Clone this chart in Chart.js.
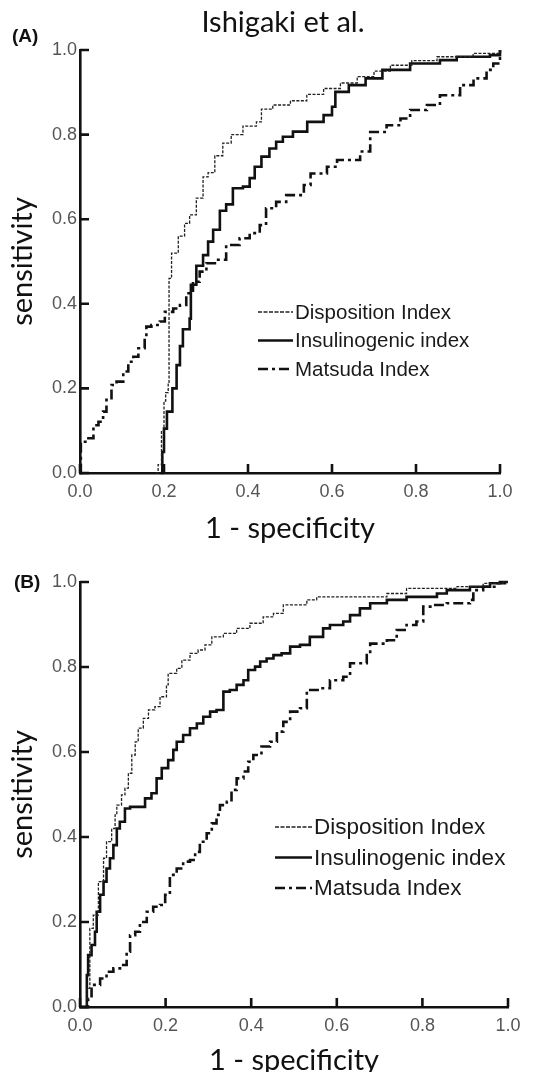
<!DOCTYPE html>
<html lang="en">
<head>
<meta charset="UTF-8">
<title>ROC curves - Ishigaki et al.</title>
<script src="https://cdn.jsdelivr.net/npm/chart.js"></script>
<style>
  body { margin: 0; background: #fff; }
  .panel { position: absolute; left: 0; width: 539px; }
  #panelA { top: 0; height: 545px; }
  #panelB { top: 545px; height: 527px; }
</style>
</head>
<body>
<div class="panel" id="panelA"><canvas id="chartA"></canvas></div>
<div class="panel" id="panelB"><canvas id="chartB"></canvas></div>

<script>
// ---- data ----
const seriesNames = ['Disposition Index', 'Insulinogenic index', 'Matsuda Index'];
const tickValues = [0, 0.2, 0.4, 0.6, 0.8, 1.0];

// panel (A)
const dispA_fpr = [0.180, 0.186, 0.194, 0.200, 0.204, 0.210, 0.212, 0.218, 0.234, 0.249, 0.261, 0.277, 0.293, 0.305, 0.321, 0.340, 0.360, 0.388, 0.420, 0.432, 0.459, 0.501, 0.540, 0.580, 0.620, 0.660, 0.700, 0.739, 0.790, 0.850, 0.936, 1.0];
const dispA_tpr = [0, 0.02, 0.10, 0.17, 0.19, 0.21, 0.46, 0.52, 0.56, 0.59, 0.61, 0.65, 0.70, 0.71, 0.75, 0.78, 0.80, 0.82, 0.83, 0.86, 0.87, 0.88, 0.895, 0.909, 0.922, 0.937, 0.950, 0.964, 0.975, 0.984, 0.992, 1.0];

const insA_fpr = [0.192, 0.196, 0.200, 0.207, 0.220, 0.230, 0.238, 0.245, 0.261, 0.264, 0.277, 0.293, 0.305, 0.317, 0.333, 0.348, 0.364, 0.388, 0.404, 0.416, 0.432, 0.451, 0.467, 0.483, 0.507, 0.541, 0.580, 0.600, 0.608, 0.640, 0.680, 0.720, 0.786, 0.857, 0.897, 0.976, 1.0];
const insA_tpr = [0, 0.05, 0.105, 0.145, 0.20, 0.255, 0.30, 0.34, 0.365, 0.445, 0.49, 0.515, 0.547, 0.575, 0.62, 0.635, 0.673, 0.677, 0.697, 0.724, 0.748, 0.767, 0.783, 0.795, 0.807, 0.830, 0.846, 0.866, 0.901, 0.917, 0.933, 0.953, 0.968, 0.976, 0.984, 0.988, 1.0];

const matA_fpr = [0, 0.002, 0.020, 0.032, 0.044, 0.055, 0.063, 0.075, 0.087, 0.103, 0.115, 0.127, 0.139, 0.154, 0.158, 0.170, 0.190, 0.202, 0.222, 0.238, 0.253, 0.269, 0.285, 0.301, 0.325, 0.348, 0.380, 0.404, 0.428, 0.443, 0.467, 0.491, 0.533, 0.549, 0.588, 0.612, 0.667, 0.691, 0.730, 0.763, 0.786, 0.826, 0.857, 0.905, 0.937, 0.968, 0.984, 1.0];
const matA_tpr = [0, 0.074, 0.082, 0.113, 0.121, 0.145, 0.173, 0.208, 0.216, 0.24, 0.263, 0.275, 0.295, 0.318, 0.346, 0.35, 0.358, 0.381, 0.389, 0.397, 0.425, 0.452, 0.476, 0.496, 0.504, 0.539, 0.555, 0.567, 0.586, 0.626, 0.641, 0.657, 0.681, 0.708, 0.724, 0.74, 0.76, 0.806, 0.822, 0.838, 0.858, 0.870, 0.893, 0.917, 0.933, 0.953, 0.968, 1.0];

// panel (B)
const dispB_fpr = [0, 0.016, 0.023, 0.031, 0.043, 0.055, 0.062, 0.074, 0.082, 0.086, 0.097, 0.105, 0.113, 0.121, 0.129, 0.136, 0.148, 0.160, 0.175, 0.187, 0.202, 0.206, 0.226, 0.238, 0.257, 0.276, 0.292, 0.308, 0.335, 0.366, 0.397, 0.428, 0.452, 0.475, 0.530, 0.553, 0.717, 0.763, 0.881, 0.942, 0.989, 1.0];
const dispB_tpr = [0, 0.044, 0.185, 0.216, 0.295, 0.35, 0.389, 0.42, 0.452, 0.475, 0.499, 0.515, 0.55, 0.593, 0.624, 0.656, 0.679, 0.699, 0.707, 0.73, 0.758, 0.785, 0.797, 0.816, 0.832, 0.84, 0.852, 0.871, 0.879, 0.891, 0.903, 0.918, 0.926, 0.946, 0.958, 0.965, 0.973, 0.985, 0.989, 0.997, 1.0, 1.0];

const insB_fpr = [0, 0.016, 0.019, 0.027, 0.035, 0.039, 0.047, 0.055, 0.062, 0.070, 0.078, 0.086, 0.093, 0.105, 0.117, 0.136, 0.152, 0.167, 0.179, 0.191, 0.206, 0.218, 0.226, 0.241, 0.257, 0.273, 0.288, 0.304, 0.319, 0.335, 0.350, 0.366, 0.382, 0.393, 0.409, 0.421, 0.436, 0.452, 0.471, 0.491, 0.514, 0.537, 0.568, 0.584, 0.615, 0.631, 0.654, 0.678, 0.717, 0.763, 0.834, 0.857, 0.911, 0.958, 0.981, 1.0];
const insB_tpr = [0, 0.075, 0.122, 0.146, 0.177, 0.224, 0.264, 0.295, 0.326, 0.35, 0.381, 0.42, 0.436, 0.467, 0.471, 0.471, 0.491, 0.503, 0.538, 0.562, 0.581, 0.605, 0.624, 0.64, 0.656, 0.667, 0.683, 0.695, 0.699, 0.742, 0.746, 0.758, 0.769, 0.793, 0.801, 0.813, 0.82, 0.828, 0.832, 0.848, 0.852, 0.871, 0.891, 0.899, 0.907, 0.922, 0.938, 0.950, 0.958, 0.965, 0.973, 0.981, 0.989, 0.997, 1.0, 1.0];

const matB_fpr = [0, 0.019, 0.027, 0.047, 0.062, 0.078, 0.097, 0.109, 0.117, 0.129, 0.140, 0.156, 0.171, 0.187, 0.199, 0.210, 0.226, 0.241, 0.257, 0.269, 0.280, 0.296, 0.308, 0.319, 0.327, 0.343, 0.354, 0.366, 0.382, 0.393, 0.405, 0.424, 0.444, 0.460, 0.475, 0.491, 0.514, 0.530, 0.561, 0.584, 0.615, 0.631, 0.670, 0.678, 0.717, 0.740, 0.763, 0.786, 0.802, 0.826, 0.857, 0.911, 0.919, 0.942, 0.973, 1.0];
const matB_tpr = [0, 0.02, 0.052, 0.067, 0.083, 0.091, 0.099, 0.13, 0.169, 0.177, 0.2, 0.224, 0.236, 0.24, 0.264, 0.311, 0.326, 0.342, 0.346, 0.365, 0.389, 0.409, 0.432, 0.452, 0.475, 0.483, 0.511, 0.538, 0.554, 0.577, 0.593, 0.613, 0.624, 0.648, 0.671, 0.695, 0.703, 0.746, 0.750, 0.769, 0.777, 0.809, 0.832, 0.855, 0.863, 0.887, 0.899, 0.907, 0.942, 0.946, 0.950, 0.958, 0.981, 0.989, 0.997, 1.0];

// ---- helpers ----
const toPoints = (xs, ys) => xs.map((v, i) => ({ x: v, y: ys[i] }));

const lineStyles = [
    { borderColor: '#222', borderWidth: 1.3, borderDash: [3, 1.5] },
    { borderColor: '#111', borderWidth: 2.6, borderDash: [] },
    { borderColor: '#111', borderWidth: 2.6, borderDash: [10, 4, 3, 4] }
];

function makeDatasets(pairs) {
    return pairs.map((p, i) => Object.assign({
        label: seriesNames[i],
        data: toPoints(p[0], p[1]),
        stepped: true,
        pointRadius: 0,
        fill: false,
        clip: 4
    }, lineStyles[i]));
}

// inner tick marks on both axes
const innerTicks = {
    id: 'innerTicks',
    afterDraw(chart) {
        const { ctx, chartArea: a, scales: { x, y } } = chart;
        ctx.save();
        ctx.strokeStyle = '#111';
        ctx.lineWidth = 2.6;
        ctx.beginPath();
        tickValues.forEach(v => {
            const px = x.getPixelForValue(v);
            ctx.moveTo(px, a.bottom);
            ctx.lineTo(px, a.bottom - 9);
            const py = y.getPixelForValue(v);
            ctx.moveTo(a.left, py);
            ctx.lineTo(a.left + 9, py);
        });
        ctx.stroke();
        ctx.restore();
    }
};

// legend drawn inside the plot + free text (panel letter, heading)
const insideLegend = {
    id: 'insideLegend',
    afterDraw(chart, args, opts) {
        const ctx = chart.ctx;
        ctx.save();
        ctx.textBaseline = 'middle';
        chart.data.datasets.forEach((ds, i) => {
            const y = opts.top + i * opts.gap;
            ctx.strokeStyle = ds.borderColor;
            ctx.lineWidth = ds.borderWidth;
            ctx.setLineDash(i === 0 ? [4, 1.5] : ds.borderDash);
            ctx.beginPath();
            ctx.moveTo(opts.x0, y);
            ctx.lineTo(opts.x1, y);
            ctx.stroke();
            ctx.setLineDash([]);
            ctx.fillStyle = '#1a1a1a';
            ctx.font = opts.fontSize + 'px "Liberation Sans", Arial, sans-serif';
            ctx.textAlign = 'left';
            ctx.fillText(ds.label, opts.x1 + 2, y + 1);
        });
        (opts.texts || []).forEach(t => {
            ctx.fillStyle = '#111';
            ctx.font = t.font;
            ctx.textAlign = t.align || 'left';
            ctx.textBaseline = 'alphabetic';
            ctx.fillText(t.text, t.x, t.y);
        });
        ctx.restore();
    }
};

function makeChart(id, datasets, lay) {
    const ctx = document.getElementById(id).getContext('2d');
    return new Chart(ctx, {
        type: 'line',
        data: { datasets: datasets },
        options: {
            responsive: true,
            maintainAspectRatio: false,
            animation: false,
            layout: { padding: { top: lay.top, right: lay.right, left: 0, bottom: 0 } },
            plugins: {
                legend: { display: false },
                tooltip: { enabled: false },
                insideLegend: lay.legend
            },
            scales: {
                x: {
                    type: 'linear', min: 0, max: 1,
                    afterFit: s => { s.height = lay.xHeight; },
                    grid: { display: false, drawTicks: false },
                    border: { display: true, color: '#111', width: 2.6 },
                    ticks: {
                        stepSize: 0.2, padding: 8, color: '#555',
                        font: { family: '"Liberation Sans", Arial', size: 18 },
                        callback: v => v.toFixed(1)
                    },
                    title: {
                        display: true, text: '1 - specificity', color: '#111',
                        font: { family: 'Lato', size: 29, lineHeight: lay.xTitleLH },
                        padding: { top: 0, bottom: 0 }
                    }
                },
                y: {
                    type: 'linear', min: 0, max: 1,
                    afterFit: s => { s.width = 80; },
                    grid: { display: false, drawTicks: false },
                    border: { display: true, color: '#111', width: 2.6 },
                    ticks: {
                        stepSize: 0.2, padding: 3, color: '#555',
                        font: { family: '"Liberation Sans", Arial', size: 18 },
                        callback: v => v.toFixed(1)
                    },
                    title: {
                        display: true, text: 'sensitivity', color: '#111',
                        font: { family: 'Lato', size: 29, lineHeight: 1 },
                        padding: { top: 8, bottom: 0 }
                    }
                }
            }
        },
        plugins: [innerTicks, insideLegend]
    });
}

makeChart('chartA', makeDatasets([[dispA_fpr, dispA_tpr], [insA_fpr, insA_tpr], [matA_fpr, matA_tpr]]), {
    top: 50, right: 39, xHeight: 72, xTitleLH: 1.1,
    legend: {
        x0: 258, x1: 293, top: 312, gap: 28.5, fontSize: 20.5,
        texts: [
            { text: 'Ishigaki et al.', x: 283, y: 32, align: 'center', font: '29px Lato' },
            { text: '(A)', x: 12, y: 42, font: 'bold 19px "Liberation Sans", Arial' }
        ]
    }
});

makeChart('chartB', makeDatasets([[dispB_fpr, dispB_tpr], [insB_fpr, insB_tpr], [matB_fpr, matB_tpr]]), {
    top: 37, right: 31, xHeight: 65, xTitleLH: 0.8,
    legend: {
        x0: 275, x1: 312, top: 282, gap: 30.5, fontSize: 22.5,
        texts: [
            { text: '(B)', x: 14, y: 43, font: 'bold 19px "Liberation Sans", Arial' }
        ]
    }
});
</script>
</body>
</html>
